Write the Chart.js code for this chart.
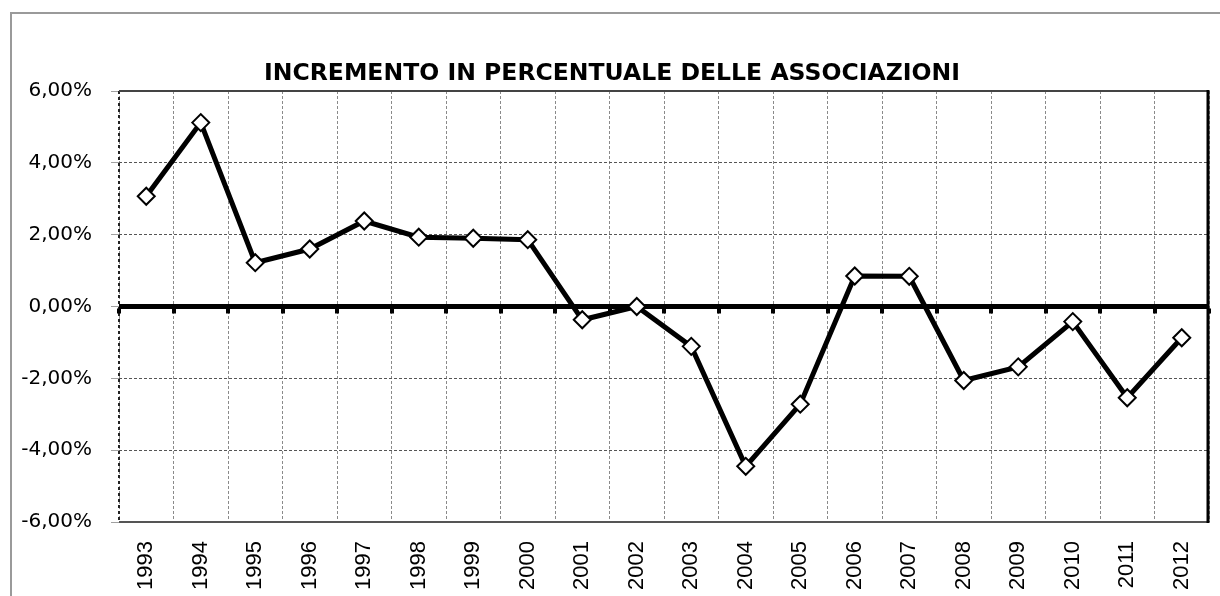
<!DOCTYPE html>
<html>
<head>
<meta charset="utf-8">
<script src="https://cdn.jsdelivr.net/npm/chart.js@4.4.0/dist/chart.umd.min.js"></script>
<style>
  html, body { margin: 0; padding: 0; background: #fff; }
  canvas { display: block; }
</style>
</head>
<body>
<canvas id="c" width="1220" height="596"></canvas>
<script>
const categories = ['1993','1994','1995','1996','1997','1998','1999','2000','2001','2002','2003','2004','2005','2006','2007','2008','2009','2010','2011','2012'];
const values = [3.07, 5.12, 1.22, 1.60, 2.38, 1.93, 1.90, 1.86, -0.37, 0.00, -1.11, -4.45, -2.72, 0.85, 0.84, -2.06, -1.68, -0.42, -2.54, -0.87];
const yMin = -6, yMax = 6, yStep = 2;
const titleText = 'INCREMENTO IN PERCENTUALE DELLE ASSOCIAZIONI';

const fmt = v => v.toFixed(2).replace('.', ',') + '%';

const decor = {
  id: 'decor',
  beforeDraw(chart) {
    const ctx = chart.ctx;
    ctx.save();
    ctx.fillStyle = '#fff';
    ctx.fillRect(0, 0, chart.width, chart.height);
    ctx.strokeStyle = '#9a9a9a';
    ctx.lineWidth = 2;
    ctx.strokeRect(11, 13, 1400, 800);
    ctx.restore();
  },
  beforeDatasetsDraw(chart) {
    const ctx = chart.ctx, a = chart.chartArea;
    const x = chart.scales.x, y = chart.scales.y;
    ctx.save();
    ctx.strokeStyle = '#222';
    ctx.lineWidth = 2;
    ctx.setLineDash([3, 3]);
    ctx.beginPath(); ctx.moveTo(a.left, a.top); ctx.lineTo(a.left, a.bottom); ctx.stroke();
    ctx.setLineDash([]);
    ctx.strokeStyle = '#444';
    ctx.lineWidth = 2;
    ctx.beginPath(); ctx.moveTo(a.left, a.top); ctx.lineTo(a.right, a.top); ctx.stroke();
    ctx.strokeStyle = '#555';
    ctx.beginPath(); ctx.moveTo(a.left, a.bottom); ctx.lineTo(a.right, a.bottom); ctx.stroke();
    ctx.strokeStyle = '#000';
    ctx.lineWidth = 3;
    ctx.beginPath(); ctx.moveTo(a.right - 1, a.top - 1); ctx.lineTo(a.right - 1, a.bottom + 1); ctx.stroke();
    const y0 = y.getPixelForValue(0);
    ctx.fillStyle = '#000';
    ctx.fillRect(a.left, y0 - 2.5, a.right - a.left, 5);
    const n = categories.length;
    for (let i = 0; i <= n; i++) {
      let px;
      if (i === 0) px = a.left;
      else if (i === n) px = a.right;
      else px = (x.getPixelForValue(i - 1) + x.getPixelForValue(i)) / 2;
      ctx.fillRect(Math.round(px) - 2, y0 + 2, 4, 5);
    }
    ctx.restore();
  },
  afterDraw(chart) {
    const ctx = chart.ctx;
    ctx.save();
    ctx.fillStyle = '#000';
    ctx.font = 'bold 23px "DejaVu Sans"';
    ctx.textBaseline = 'alphabetic';
    ctx.textAlign = 'left';
    const w = ctx.measureText(titleText).width;
    const target = 696;
    const sx = target / w;
    ctx.translate(264, 80);
    ctx.scale(sx, 1);
    ctx.fillText(titleText, 0, 0);
    ctx.restore();
  }
};

new Chart(document.getElementById('c'), {
  type: 'line',
  data: {
    labels: categories,
    datasets: [{
      data: values,
      borderColor: '#000',
      borderWidth: 5,
      tension: 0,
      pointStyle: 'rectRot',
      pointRadius: 8.5,
      pointHoverRadius: 8.5,
      pointBackgroundColor: '#fff',
      pointBorderColor: '#000',
      pointBorderWidth: 2,
      clip: false
    }]
  },
  options: {
    responsive: false,
    devicePixelRatio: 1,
    animation: false,
    events: [],
    layout: { padding: { top: 91, right: 11, left: 0, bottom: 0 } },
    plugins: {
      legend: { display: false },
      title: { display: false },
      tooltip: { enabled: false }
    },
    scales: {
      x: {
        type: 'category',
        offset: true,
        grid: {
          offset: true,
          drawTicks: false,
          color: '#8a8a8a',
          lineWidth: 1
        },
        border: { display: false, dash: [3, 2] },
        ticks: {
          maxRotation: 90,
          minRotation: 90,
          padding: 19,
          color: '#000',
          font: { family: '"Liberation Sans", Arial, sans-serif', size: 22 }
        },
        afterFit(s) { s.height = 74; s.paddingLeft = 0; s.paddingRight = 0; }
      },
      y: {
        min: yMin,
        max: yMax,
        grid: {
          tickLength: 8,
          tickColor: '#a0a0a0',
          lineWidth: 1,
          color: c => (c.tick && (c.tick.value === 0 || c.tick.value === yMin || c.tick.value === yMax)) ? 'rgba(0,0,0,0)' : '#555'
        },
        border: { display: false, dash: [3, 2] },
        ticks: {
          stepSize: yStep,
          padding: 19,
          color: '#000',
          font: { family: '"DejaVu Sans", sans-serif', size: 20 },
          callback: v => fmt(v)
        },
        afterFit(s) { s.width = 119; s.paddingTop = 0; s.paddingBottom = 0; }
      }
    }
  },
  plugins: [decor]
});
</script>
</body>
</html>
